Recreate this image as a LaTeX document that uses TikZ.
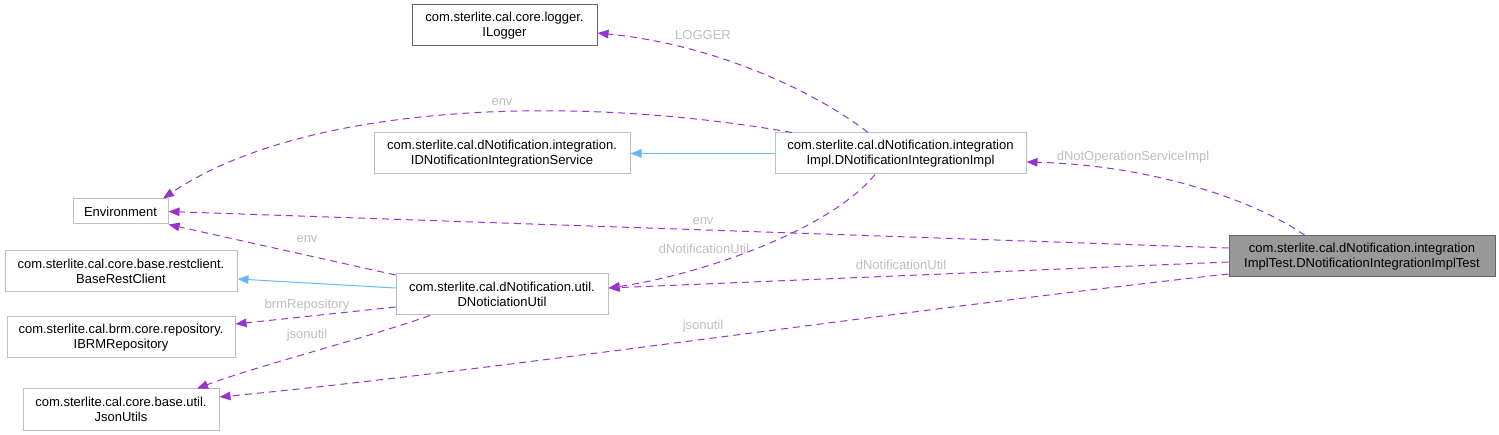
\documentclass[tikz,border=0pt]{standalone}
\usepackage{fontspec}
\setmainfont{Liberation Sans}
\usetikzlibrary{arrows.meta,calc}
\definecolor{edgepurple}{HTML}{9A32CD}
\definecolor{edgeblue}{HTML}{63B8FF}
\definecolor{boxgrey}{HTML}{BFBFBF}
\definecolor{darkgrey}{HTML}{666666}
\definecolor{testfill}{HTML}{999999}
\definecolor{labelgrey}{HTML}{BEBEBE}
\begin{document}
\begin{tikzpicture}[x=1pt,y=-1pt,
  cls/.style={draw=boxgrey,line width=1pt,fill=white,inner sep=0pt,align=center,
    font=\fontsize{13}{14.5}\selectfont,text=black},
  rel/.style={draw=edgepurple,line width=1pt,dash pattern=on 7pt off 5pt,
    -{Triangle[length=11pt,width=8.5pt]}},
  inh/.style={draw=edgeblue,line width=1pt,-{Triangle[length=11pt,width=8.5pt]}},
  lbl/.style={text=labelgrey,font=\fontsize{13}{14.5}\selectfont,inner sep=0pt}]
\useasboundingbox (0,0) rectangle (1499,435);
% nodes
\node[cls,draw=darkgrey,minimum width=185pt,minimum height=41pt] (logger) at (504.5,25.5)
  {com.sterlite.cal.core.logger.\\ILogger};
\node[cls,minimum width=256pt,minimum height=41pt] (iserv) at (502,153.5)
  {com.sterlite.cal.dNotification.integration.\\IDNotificationIntegrationService};
\node[cls,minimum width=251pt,minimum height=41pt] (impl) at (900.5,153.5)
  {com.sterlite.cal.dNotification.integration\\Impl.DNotificationIntegrationImpl};
\node[cls,minimum width=95pt,minimum height=25pt] (env) at (120.5,211.5) {Environment};
\node[cls,minimum width=232pt,minimum height=41pt] (brc) at (121,271.5)
  {com.sterlite.cal.core.base.restclient.\\BaseRestClient};
\node[cls,minimum width=228pt,minimum height=41pt] (ibrm) at (121,337.5)
  {com.sterlite.cal.brm.core.repository.\\IBRMRepository};
\node[cls,minimum width=196pt,minimum height=41pt] (json) at (121,409.5)
  {com.sterlite.cal.core.base.util.\\JsonUtils};
\node[cls,minimum width=212pt,minimum height=41pt] (util) at (502,294.5)
  {com.sterlite.cal.dNotification.util.\\DNoticiationUtil};
\node[cls,draw=darkgrey,fill=testfill,minimum width=266pt,minimum height=41pt] (test) at (1362,256.5)
  {com.sterlite.cal.dNotification.integration\\ImplTest.DNotificationIntegrationImplTest};
% connectors
\draw[rel] ([xshift=-32.5pt]impl.north) .. controls (820,95) and (720,45) .. ([yshift=-7.5pt]logger.east);
\draw[rel] ([xshift=-108.5pt]impl.north) .. controls (560,92) and (300,106) .. ([xshift=42.5pt]env.north);
\draw[inh] (impl.west) -- (iserv.east);
\draw[rel] ([xshift=-57pt]test.north) .. controls (1255,200) and (1150,165) .. ([yshift=-8.5pt]impl.east);
\draw[rel] ([yshift=8.5pt]test.west) -- (env.east);
\draw[rel] ([yshift=-5.5pt]test.west) -- ([yshift=6.5pt]util.east);
\draw[rel] ([yshift=-17.5pt]test.west) .. controls (900,310) and (500,370) .. ([yshift=12.5pt]json.east);
\draw[rel] ([xshift=-25.5pt]impl.south) .. controls (830,230) and (700,275) .. ([yshift=6.5pt]util.east);
\draw[rel] ([yshift=19.5pt]util.west) -- (env.south east);
\draw[inh] ([yshift=6.5pt]util.west) -- ([yshift=-7.5pt]brc.east);
\draw[rel] ([yshift=-12.5pt]util.west) -- ([yshift=13.5pt]ibrm.east);
\draw[rel] ([xshift=-72pt]util.south) .. controls (360,340) and (260,365) .. ([xshift=76pt]json.north);
% labels
\node[lbl] (lLogger) at (703,35) {LOGGER};
\node[lbl] (lEnvTop) at (502,102) {env};
\node[lbl] (lDNot) at (1133,157) {dNotOperationServiceImpl};
\node[lbl] (lEnvMid) at (703,221) {env};
\node[lbl] (lUtilA) at (704,249) {dNotificationUtil};
\node[lbl] (lUtilB) at (901,265) {dNotificationUtil};
\node[lbl] (lJsonA) at (703,326) {jsonutil};
\node[lbl] (lEnvUtil) at (307,239) {env};
\node[lbl] (lBrm) at (307,305) {brmRepository};
\node[lbl] (lJsonB) at (307,335) {jsonutil};
\end{tikzpicture}
\end{document}
